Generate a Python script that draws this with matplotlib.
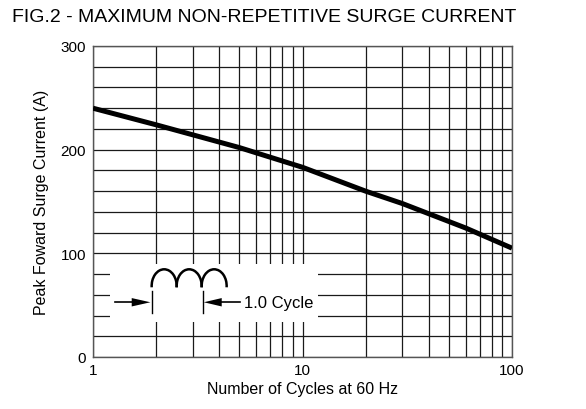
import numpy as np
import matplotlib
matplotlib.use("Agg")
import matplotlib.pyplot as plt
from matplotlib.patches import Rectangle, Arc, Polygon

plt.rcParams['font.family'] = ['Liberation Sans', 'DejaVu Sans']

# data
cycles = [1, 2, 5, 10, 20, 30, 60, 100]
current = [240, 224, 202, 183, 160, 148, 124.5, 105]

y_ticks = [0, 100, 200, 300]
x_ticks = [1, 10, 100]
x_tick_labels = ["1", "10", "100"]

fig = plt.figure(figsize=(5.86, 4.10), dpi=100)
ax = fig.add_axes([93/586, 52/410, 419/586, 311/410])

ax.plot(cycles, current, color="black", lw=3.6, solid_capstyle="butt", zorder=3)

ax.set_xscale("log")
ax.set_xlim(1, 100)
ax.set_ylim(0, 300)
ax.set_xticks(x_ticks)
ax.set_xticklabels(x_tick_labels)
ax.set_xticks([m * d for d in (1, 10) for m in range(2, 10)], minor=True)
ax.set_xticklabels([], minor=True)
ax.set_yticks(y_ticks)
ax.set_yticks(np.arange(20, 300, 20), minor=True)
ax.tick_params(which="both", length=0, labelsize=11)
ax.tick_params(axis="y", pad=5)
ax.tick_params(axis="x", pad=4)

ax.set_axisbelow(True)
ax.grid(which="both", color="#1a1a1a", lw=0.9)
for s in ax.spines.values():
    s.set_color("#555555")
    s.set_linewidth(1.0)

ax.set_xlabel("Number of Cycles at 60 Hz", fontsize=11.5, labelpad=3)
ax.set_ylabel("Peak Foward Surge Current (A)", fontsize=11.5, labelpad=8)

fig.text(264/586, 1 - 17/410, "FIG.2 - MAXIMUM NON-REPETITIVE SURGE CURRENT",
         ha="center", va="center", fontsize=14)

# inset waveform sketch (white box over the grid)
tr = ax.transAxes
ax.add_patch(Rectangle((0.0406, 0.1125), 0.4964, 0.1865, transform=tr,
                       facecolor="white", edgecolor="none", zorder=1))
aw, ah = 25/419, 33.4/311
x0, yb = 0.140, 0.2283
for i in range(3):
    ax.add_patch(Arc((x0 + aw*(i + 0.5), yb), aw, ah, theta1=-8, theta2=188,
                     transform=tr, color="black", lw=1.8, zorder=4))
x1 = 0.2618
ax.plot([x0, x0], [0.1415, 0.2122], color="black", lw=1.0, transform=tr, zorder=4)
ax.plot([x1, x1], [0.1415, 0.2122], color="black", lw=1.0, transform=tr, zorder=4)

# arrows pointing at the cycle marks
ya, hh = 0.176, 0.0135
ax.plot([0.0525, 0.095], [ya, ya], color="black", lw=1.2, transform=tr, zorder=4)
ax.add_patch(Polygon([[0.0924, ya - hh], [0.137, ya], [0.0924, ya + hh]], closed=True,
                     transform=tr, facecolor="black", edgecolor="none", zorder=4))
ax.plot([0.305, 0.351], [ya, ya], color="black", lw=1.2, transform=tr, zorder=4)
ax.add_patch(Polygon([[0.3072, ya - hh], [0.2645, ya], [0.3072, ya + hh]], closed=True,
                     transform=tr, facecolor="black", edgecolor="none", zorder=4))
ax.text(0.361, ya, "1.0 Cycle", transform=tr, ha="left", va="center",
        fontsize=12, zorder=4)

plt.savefig("out.png", dpi=100)
